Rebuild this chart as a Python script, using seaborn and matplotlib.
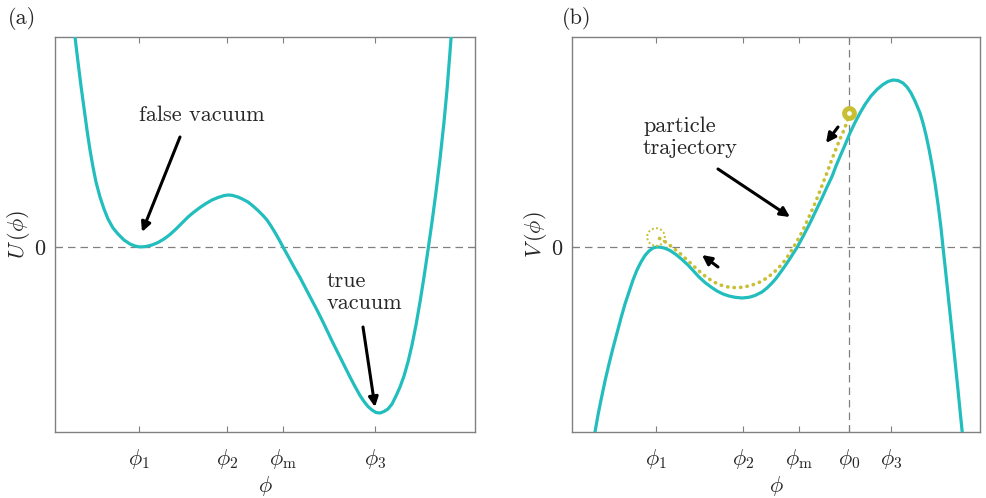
import pandas as pd
import matplotlib.pyplot as plt
import seaborn as sns

# values; phi and potential in arbitrary units (phi_1 = 139, U(phi_1) = 0)
phi_u = [75, 78, 81, 84, 87, 90, 93, 96, 100, 104, 108, 113, 118, 124, 130, 135, 140,
         146, 152, 158, 164, 170, 176, 182, 188, 194, 200, 206, 212, 218, 224, 228,
         232, 238, 243, 248, 253, 258, 263, 267, 271, 275, 279, 283,
         288, 294, 300, 306, 312, 317, 322, 328, 333, 339, 345, 350, 355, 360, 364,
         368, 372, 376, 380, 384, 388, 392, 396, 400, 404, 408, 412, 416, 420, 424,
         428, 432, 436, 440, 444, 447, 450, 452]
u_vals = [210, 185, 161, 139, 117, 97, 80, 65, 50, 38, 28, 19, 13, 7, 3, 1, 0,
          0.5, 2, 4.5, 8, 12.5, 18, 24, 30, 35, 39.5, 43.5, 47, 49.5, 51.4, 52,
          51.7, 50, 47.7, 45, 41, 36.5, 31.5, 27, 21, 14.5, 7.5, 0,
          -9, -20, -30.5, -42, -53.5, -63, -73, -85.5, -96, -108, -120, -130, -139.5,
          -148.5, -154.5, -159.5, -163, -165.5, -166, -164.5, -162, -157, -149, -140,
          -129, -115, -98, -78, -55, -30, -3, 25, 55, 88, 125, 157, 195, 222]

phi_v = [75, 78, 81, 84, 88, 92, 96, 100, 104, 108, 112, 116, 120, 124, 128, 132, 136,
         140, 144, 148, 153, 159, 165, 171, 177, 182, 188, 194, 200, 206, 212, 218,
         225, 232, 238, 245, 250, 255, 259, 263, 268, 273, 280, 286, 293, 299, 305,
         310, 315, 319, 323, 328, 333, 338, 343, 348, 354, 360, 366, 371, 376, 381,
         386, 390, 394, 398, 403, 406, 409, 412, 415, 418, 421, 424, 426, 429, 433,
         437, 441, 445, 447]
v_vals = [-198, -185, -168, -153, -134, -117, -101, -86, -71, -57, -45, -33, -23, -15,
          -8.5, -4, -1, 0, -0.3, -1.3, -3.5, -7.5, -12.5, -18, -24.5, -30, -35.5, -40,
          -44, -47, -49, -50.3, -51, -50.3, -48.5, -45, -41, -36, -31.5, -26, -19, -11.5,
          -0.5, 10.5, 24, 36.5, 49, 60, 70.5, 81, 90.5, 102, 114, 124.5, 134, 142.5,
          151, 157.5, 162.5, 165.5, 167, 166.5, 164, 160, 154, 146, 134, 124, 112, 98,
          82, 64, 43, 19, 0, -28, -66, -104, -143, -183, -203]

# particle trajectory (dotted), from phi_0 back to phi_1
phi_traj = [332, 330, 327, 323, 319, 315, 311, 306, 301, 296, 291, 286, 281, 276,
            271, 266, 261, 255, 249, 242, 234, 225, 218, 212, 205, 199, 195, 188,
            182, 175, 168, 162, 155, 150, 145, 139]
v_traj = [134, 125, 117, 108, 98, 88, 77, 64, 51, 39, 28, 17, 7.5, -1, -9, -16, -21.5,
          -27, -31.5, -35.5, -38.5, -40.3, -40.6, -40.2, -38.5, -36, -34, -29, -24,
          -17.5, -11, -5.5, 0, 4, 7.5, 10]

ticks_a = [139, 227, 283, 375]
labels_a = [r'$\phi_1$', r'$\phi_2$', r'$\phi_\mathrm{m}$', r'$\phi_3$']
ticks_b = [139, 226, 282, 332, 374]
labels_b = [r'$\phi_1$', r'$\phi_2$', r'$\phi_\mathrm{m}$', r'$\phi_0$', r'$\phi_3$']
phi_0 = 332

teal = '#22bdbd'
olive = '#c9bf35'
grey = '#808080'

sns.set_style('white')
plt.rcParams['font.family'] = ['cmr10', 'DejaVu Serif']
plt.rcParams['mathtext.fontset'] = 'cm'
plt.rcParams['axes.unicode_minus'] = False

fig = plt.figure(figsize=(9.86, 4.98), dpi=100)
ax_a = fig.add_axes([55 / 986, 1 - 432 / 498, 420 / 986, 395 / 498])
ax_b = fig.add_axes([572 / 986, 1 - 432 / 498, 408 / 986, 395 / 498])

df_u = pd.DataFrame({'phi': phi_u, 'U': u_vals})
df_v = pd.DataFrame({'phi': phi_v, 'V': v_vals})
df_t = pd.DataFrame({'phi': phi_traj, 'V': v_traj})

for ax in (ax_a, ax_b):
    ax.axhline(0, color=grey, lw=0.9, ls=(0, (6, 4)), zorder=1)
ax_b.axvline(phi_0, color=grey, lw=0.9, ls=(0, (6, 4)), zorder=1)

sns.lineplot(data=df_u, x='phi', y='U', ax=ax_a, color=teal, lw=2.3,
             sort=False, estimator=None, zorder=3)
sns.lineplot(data=df_v, x='phi', y='V', ax=ax_b, color=teal, lw=2.3,
             sort=False, estimator=None, zorder=3)
sns.lineplot(data=df_t, x='phi', y='V', ax=ax_b, color=olive, lw=2.6,
             sort=False, estimator=None, zorder=4)
traj_line = ax_b.lines[-1]
traj_line.set_linestyle((0, (0.1, 1.7)))
traj_line.set_dash_capstyle('round')

# start / end of the trajectory
ax_b.scatter([phi_0], [v_traj[0]], s=50, facecolor='white', edgecolor=olive,
             linewidth=3.6, zorder=5)
ax_b.scatter([phi_traj[-1]], [v_traj[-1]], s=160, facecolor='none', edgecolor=olive,
             linewidth=1.4, linestyle=(0, (1, 1.2)), zorder=5)

for ax, ticks, labels, xmax in ((ax_a, ticks_a, labels_a, 475), (ax_b, ticks_b, labels_b, 463)):
    ax.set_xlim(55, xmax)
    ax.set_ylim(-185, 210)
    ax.set_xticks(ticks)
    ax.set_xticklabels(labels)
    ax.set_yticks([0])
    ax.set_yticklabels([r'$0$'])
    ax.tick_params(direction='in', length=4, width=0.8, color=grey,
                   bottom=True, top=True, left=True, right=True, labelsize=16, pad=6)
    ax.tick_params(axis='x', pad=11)
    for sp in ax.spines.values():
        sp.set_color(grey)
        sp.set_linewidth(1.0)
    ax.set_xlabel(r'$\phi$', fontsize=16, labelpad=2)

ax_a.set_ylabel(r'$U\,(\phi)$', fontsize=16, labelpad=2)
ax_b.set_ylabel(r'$V\,(\phi)$', fontsize=16, labelpad=2)

arrow = dict(arrowstyle='-|>', color='black', lw=2.2, mutation_scale=14, shrinkA=0, shrinkB=0)

ax_a.text(202, 132, 'false vacuum', fontsize=16, ha='center', va='center')
ax_a.annotate('', xy=(142, 15), xytext=(180, 110), arrowprops=arrow)
ax_a.text(327, -45, 'true\nvacuum', fontsize=16, ha='left', va='center', linespacing=1.15)
ax_a.annotate('', xy=(375, -160), xytext=(363, -80), arrowprops=arrow)

ax_b.text(126, 110, 'particle\ntrajectory', fontsize=16, ha='left', va='center',
          linespacing=1.15)
ax_b.annotate('', xy=(273, 30), xytext=(201, 78), arrowprops=arrow)
ax_b.annotate('', xy=(309, 104), xytext=(321, 120), arrowprops=arrow)
ax_b.annotate('', xy=(185, -8), xytext=(201, -20), arrowprops=arrow)

fig.text(8 / 986, 1 - 18 / 498, '(a)', fontsize=16, ha='left', va='center')
fig.text(562 / 986, 1 - 18 / 498, '(b)', fontsize=16, ha='left', va='center')

fig.savefig('out.png', dpi=100)
